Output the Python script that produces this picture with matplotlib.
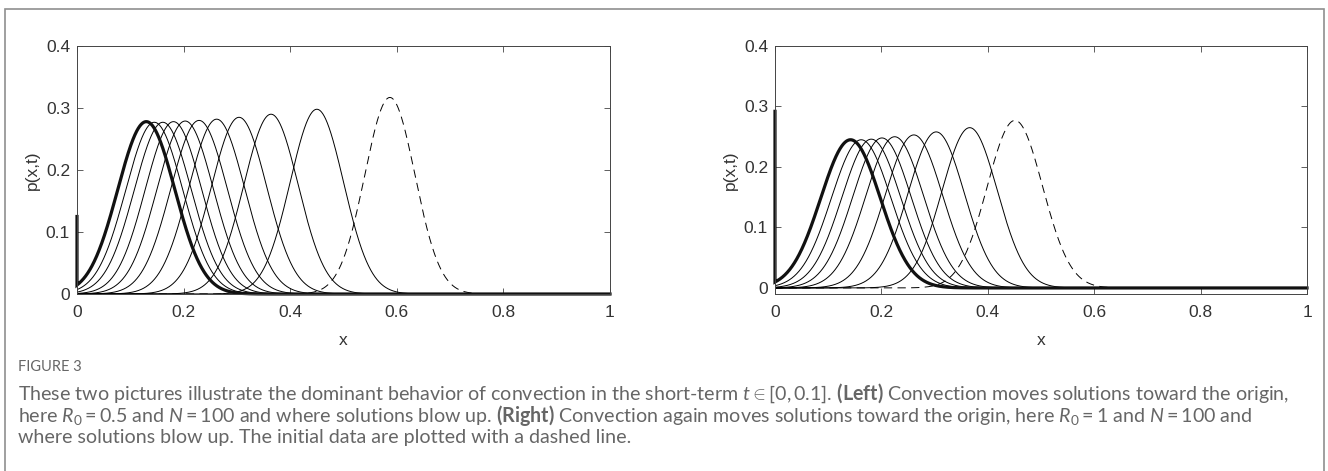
import numpy as np
import matplotlib
matplotlib.use("Agg")
import matplotlib.pyplot as plt
from matplotlib.patches import Rectangle

# ---------------- data ----------------
# Left panel (R0 = 0.5): thin solution curves (peak x, peak height, width)
left_centers = [0.145, 0.161, 0.181, 0.203, 0.229, 0.262, 0.304, 0.364, 0.450]
left_heights = [0.277, 0.277, 0.278, 0.279, 0.280, 0.282, 0.285, 0.290, 0.298]
left_widths = [0.0535, 0.0535, 0.053, 0.053, 0.053, 0.0525, 0.052, 0.051, 0.050]
left_final = (0.130, 0.278, 0.0535)      # thick curve: centre, height, width
left_spike = 0.125                        # blow-up spike at x = 0
left_initial = (0.587, 0.317, 0.047)      # dashed initial data

# Right panel (R0 = 1)
right_centers = [0.162, 0.181, 0.201, 0.225, 0.261, 0.303, 0.366]
right_heights = [0.245, 0.246, 0.248, 0.250, 0.253, 0.258, 0.265]
right_widths = [0.056, 0.0555, 0.055, 0.0545, 0.054, 0.053, 0.052]
right_final = (0.142, 0.245, 0.056)
right_spike = 0.292
right_initial = (0.451, 0.277, 0.052)

x_ticks = [0, 0.2, 0.4, 0.6, 0.8, 1]
x_ticklabels = ["0", "0.2", "0.4", "0.6", "0.8", "1"]
y_ticks = [0, 0.1, 0.2, 0.3, 0.4]
y_ticklabels = ["0", "0.1", "0.2", "0.3", "0.4"]

caption_title = "FIGURE 3"
caption_lines = [
    r"These two pictures illustrate the dominant behavior of convection in the short-term $t \in [0, 0.1]$. "
    r"$\mathbf{(Left)}$ Convection moves solutions toward the origin,",
    r"here $R_0 = 0.5$ and $N = 100$ and where solutions blow up. $\mathbf{(Right)}$ Convection again moves "
    r"solutions toward the origin, here $R_0 = 1$ and $N = 100$ and",
    r"where solutions blow up. The initial data are plotted with a dashed line.",
]

# ---------------- style ----------------
plt.rcParams["font.family"] = ["Liberation Sans", "DejaVu Sans"]
plt.rcParams["mathtext.fontset"] = "custom"
plt.rcParams["mathtext.rm"] = "Lato"
plt.rcParams["mathtext.it"] = "Lato:italic"
plt.rcParams["mathtext.bf"] = "Lato:bold"

W, H = 1328, 471
fig = plt.figure(figsize=(W / 100, H / 100), dpi=100)
fig.patch.set_facecolor("white")

def px_axes(x0, x1, ytop, ybot):
    return [x0 / W, 1 - ybot / H, (x1 - x0) / W, (ybot - ytop) / H]

ax_l = fig.add_axes(px_axes(77, 610, 46, 294))
ax_r = fig.add_axes(px_axes(775, 1307, 46, 294))

xs = np.linspace(0, 1, 2001)

def bump(c, h, s):
    return h * np.exp(-((xs - c) ** 2) / (2 * s ** 2))

tick_color = "#333333"

def draw_panel(ax, centers, heights, widths, final, spike, initial, ylo):
    for c, h, s in zip(centers, heights, widths):
        ax.plot(xs, bump(c, h, s), color="black", lw=0.7)
    c, h, s = initial
    ax.plot(xs, bump(c, h, s), color="black", lw=0.7, dashes=(8.5, 5.5))
    c, h, s = final
    yf = bump(c, h, s)
    ax.plot(np.concatenate([[0.0], xs]), np.concatenate([[spike], yf]),
            color="#111111", lw=2.3, clip_on=False, solid_joinstyle="miter")
    ax.set_xlim(0, 1)
    ax.set_ylim(ylo, 0.4)
    ax.set_xticks(x_ticks)
    ax.set_xticklabels(x_ticklabels)
    ax.set_yticks(y_ticks)
    ax.set_yticklabels(y_ticklabels)
    ax.tick_params(direction="in", length=4, width=0.6, top=True, right=True,
                   labelsize=12.5, labelcolor=tick_color, color="#444444", pad=5)
    ax.tick_params(axis="x", pad=8)
    for sp in ax.spines.values():
        sp.set_color("#444444")
        sp.set_linewidth(0.7)
    ax.set_xlabel("x", fontsize=12.5, color=tick_color, labelpad=9)
    ax.set_ylabel("p(x,t)", fontsize=12.5, color=tick_color, labelpad=4)

draw_panel(ax_l, left_centers, left_heights, left_widths, left_final, left_spike,
           left_initial, 0.0)
draw_panel(ax_r, right_centers, right_heights, right_widths, right_final, right_spike,
           right_initial, -0.01)

# outer frame
fig.add_artist(Rectangle((4.5 / W, -0.05), (1324 - 4.5) / W, 1.05 - 8.5 / H,
                         transform=fig.transFigure, fill=False,
                         edgecolor="#8f8f8f", lw=1.2, clip_on=False))

# caption
cap_color = "#666666"
fig.text(18 / W, 1 - 367 / H, caption_title, fontsize=10.5, color=cap_color,
         family="Lato", va="center", ha="left")
for i, line in enumerate(caption_lines):
    fig.text(18 / W, 1 - (393 + 22.5 * i) / H, line, fontsize=14.1, color=cap_color,
             family="Lato", va="center", ha="left")

fig.savefig("out.png", dpi=100, facecolor="white")
